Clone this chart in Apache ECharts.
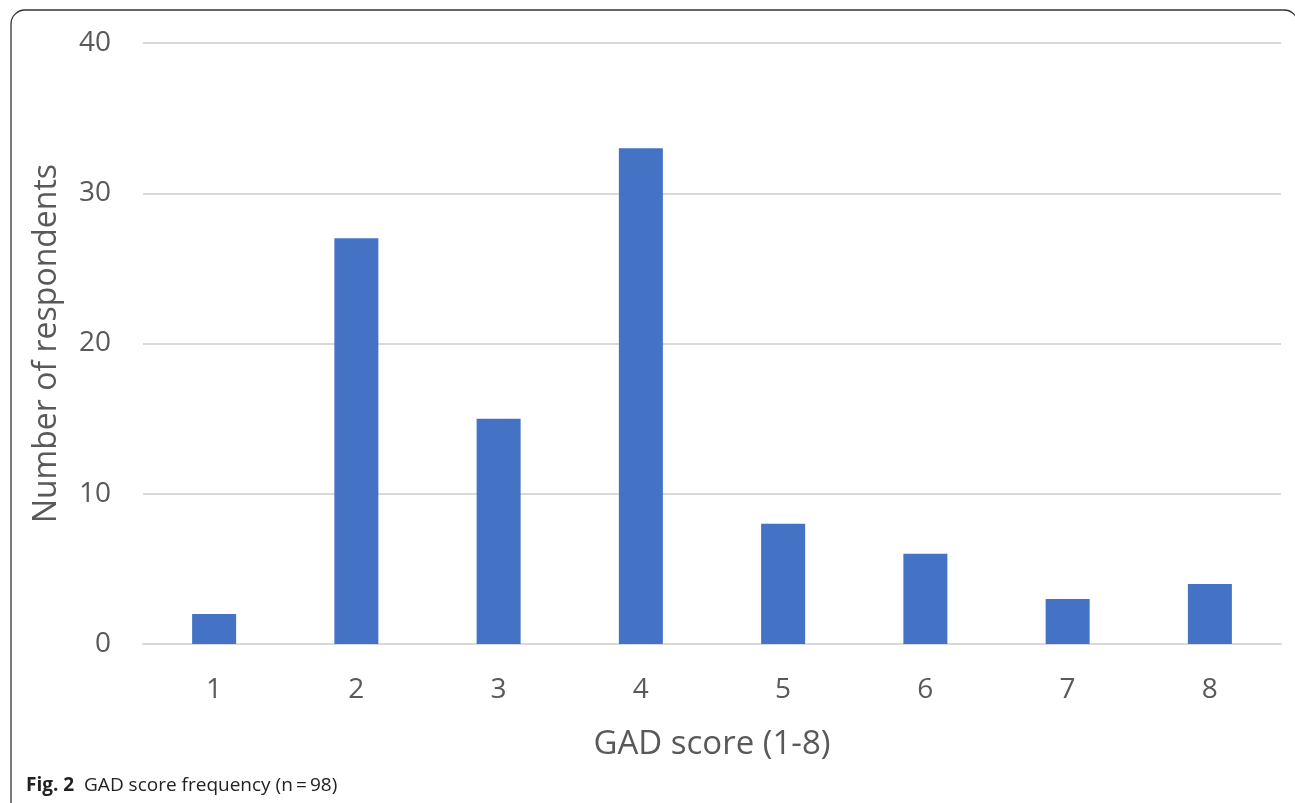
<!DOCTYPE html>
<html>
<head>
<meta charset="utf-8">
<style>
html,body{margin:0;padding:0;background:#fff;}
#chart{width:1295px;height:803px;}
</style>
<script src="https://cdn.jsdelivr.net/npm/echarts@6/dist/echarts.min.js"></script>
</head>
<body>
<div id="chart"></div>
<script>
const categories = ['1','2','3','4','5','6','7','8'];
const respondents = [2, 27, 15, 33, 8, 6, 3, 4];
const yAxisName = 'Number of respondents';
const xAxisName = 'GAD score (1-8)';

const chart = echarts.init(document.getElementById('chart'));
const font = '"Open Sans", "Noto Sans", sans-serif';
chart.setOption({
  animation: false,
  backgroundColor: '#fff',
  grid: {left: 143, right: 14, top: 43, bottom: 159},
  graphic: [
    {type: 'rect', shape: {x: 11, y: 10, width: 1287, height: 820, r: 14},
     style: {fill: 'none', stroke: '#333', lineWidth: 1.3}, silent: true, z: -1},
    {type: 'text', left: 26, top: 776,
     style: {
       text: '{b|Fig. 2}  GAD score frequency (n\u2009=\u200998)',
       font: '19px ' + font, fill: '#222',
       rich: {b: {fontWeight: 'bold', fontSize: 19, fontFamily: font, fill: '#222'}}
     }}
  ],
  xAxis: {
    type: 'category',
    data: categories,
    name: xAxisName,
    nameLocation: 'middle',
    nameGap: 84,
    nameTextStyle: {fontSize: 33, color: '#595959', fontFamily: font},
    axisLine: {lineStyle: {color: '#d9d9d9', width: 2}},
    axisTick: {show: false},
    axisLabel: {fontSize: 28, color: '#595959', fontFamily: font, margin: 32}
  },
  yAxis: {
    type: 'value',
    min: 0, max: 40, interval: 10,
    name: yAxisName,
    nameLocation: 'middle',
    nameGap: 80,
    nameTextStyle: {fontSize: 32, color: '#595959', fontFamily: font},
    axisLine: {show: false},
    axisTick: {show: false},
    splitLine: {lineStyle: {color: '#d9d9d9', width: 2}},
    axisLabel: {fontSize: 28, color: '#595959', fontFamily: font, margin: 32}
  },
  series: [{
    type: 'bar',
    data: respondents,
    barWidth: 44,
    itemStyle: {color: '#4472C4'}
  }]
});
</script>
</body>
</html>
